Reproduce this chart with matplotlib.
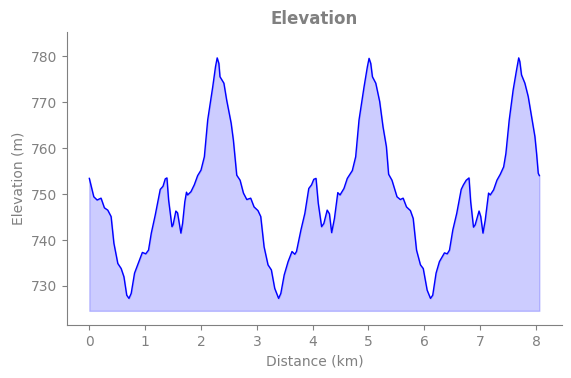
import matplotlib.pyplot as plt

distance_km = [
    0.00, 0.08, 0.14, 0.21, 0.27, 0.33, 0.39, 0.44, 0.51, 0.57, 0.62, 0.67, 0.71,
    0.75, 0.81, 0.90, 0.95, 1.01, 1.06, 1.11, 1.18, 1.27, 1.32, 1.36, 1.39, 1.42,
    1.48, 1.50, 1.55, 1.58, 1.64, 1.67, 1.71, 1.74, 1.76, 1.82, 1.88, 1.94, 2.00,
    2.06, 2.12, 2.21, 2.26, 2.29, 2.32, 2.34, 2.41, 2.46, 2.54, 2.58, 2.64, 2.70,
    2.76, 2.82, 2.89, 2.95, 3.02, 3.07, 3.13, 3.20, 3.26, 3.32, 3.39, 3.43, 3.49,
    3.56, 3.63, 3.68, 3.71, 3.79, 3.86, 3.93, 3.98, 4.02, 4.06, 4.10, 4.16, 4.20,
    4.26, 4.30, 4.34, 4.39, 4.45, 4.49, 4.56, 4.62, 4.71, 4.77, 4.83, 4.92, 4.98,
    5.01, 5.04, 5.07, 5.13, 5.20, 5.26, 5.32, 5.36, 5.42, 5.51, 5.57, 5.62, 5.68,
    5.75, 5.80, 5.86, 5.93, 5.98, 6.05, 6.11, 6.15, 6.21, 6.27, 6.36, 6.41, 6.45,
    6.51, 6.58, 6.66, 6.70, 6.75, 6.80, 6.83, 6.88, 6.91, 6.98, 7.01, 7.05, 7.09,
    7.15, 7.18, 7.24, 7.30, 7.36, 7.42, 7.46, 7.52, 7.59, 7.65, 7.69, 7.71, 7.74,
    7.80, 7.86, 7.92, 7.98, 8.01, 8.04, 8.06,
]
elevation_m = [
    753.4, 749.4, 748.7, 749.1, 747.0, 746.5, 745.1, 739.3, 734.9, 733.8, 732.0, 728.0, 727.3,
    728.4, 732.8, 735.7, 737.3, 737.0, 737.8, 741.5, 745.4, 751.0, 751.7, 753.3, 753.5, 748.7,
    742.9, 743.3, 746.3, 745.9, 741.5, 743.6, 748.3, 750.4, 749.8, 750.5, 752.0, 754.0, 755.2,
    758.1, 766.1, 773.3, 777.7, 779.6, 778.4, 775.5, 774.1, 770.4, 765.4, 761.7, 754.1, 753.0,
    750.2, 748.8, 749.1, 747.2, 746.4, 745.1, 738.5, 734.6, 733.5, 729.5, 727.3, 728.4, 732.4,
    735.3, 737.5, 736.9, 737.5, 742.2, 745.8, 751.2, 752.0, 753.2, 753.4, 748.0, 742.9, 743.6,
    746.5, 745.7, 741.6, 744.7, 750.3, 749.8, 751.2, 753.4, 755.1, 758.1, 766.1, 773.3, 777.7,
    779.5, 778.4, 775.5, 774.1, 770.1, 764.6, 760.3, 754.3, 753.0, 749.4, 748.8, 749.1, 747.2,
    746.4, 744.7, 737.8, 734.6, 733.8, 729.1, 727.3, 728.0, 732.8, 735.3, 737.2, 737.0, 737.8,
    742.2, 745.8, 751.0, 752.0, 753.0, 753.5, 748.3, 742.8, 743.3, 746.3, 745.1, 741.5, 744.3,
    750.2, 749.8, 750.9, 753.0, 754.3, 755.9, 758.8, 766.1, 772.6, 776.9, 779.6, 778.8, 775.9,
    774.1, 771.2, 766.8, 762.5, 758.8, 754.5, 754.0,
]
fill_base = 724.6

grey = '#808080'

fig = plt.figure(figsize=(5.71, 3.78), dpi=100)
ax = fig.add_axes([0.117, 0.140, 0.867, 0.775])

ax.fill_between(distance_km, elevation_m, fill_base, color='blue', alpha=0.2)
ax.plot(distance_km, elevation_m, color='blue', linewidth=1)

ax.set_ylim(721.5, 785.2)
ax.set_title('Elevation', color=grey, fontsize=12, fontweight='bold')
ax.set_xlabel('Distance (km)', color=grey)
ax.set_ylabel('Elevation (m)', color=grey)
ax.tick_params(colors=grey)
for side in ['top', 'right']:
    ax.spines[side].set_visible(False)
for side in ['left', 'bottom']:
    ax.spines[side].set_color(grey)

plt.savefig('out.png', dpi=100)
plt.close(fig)
